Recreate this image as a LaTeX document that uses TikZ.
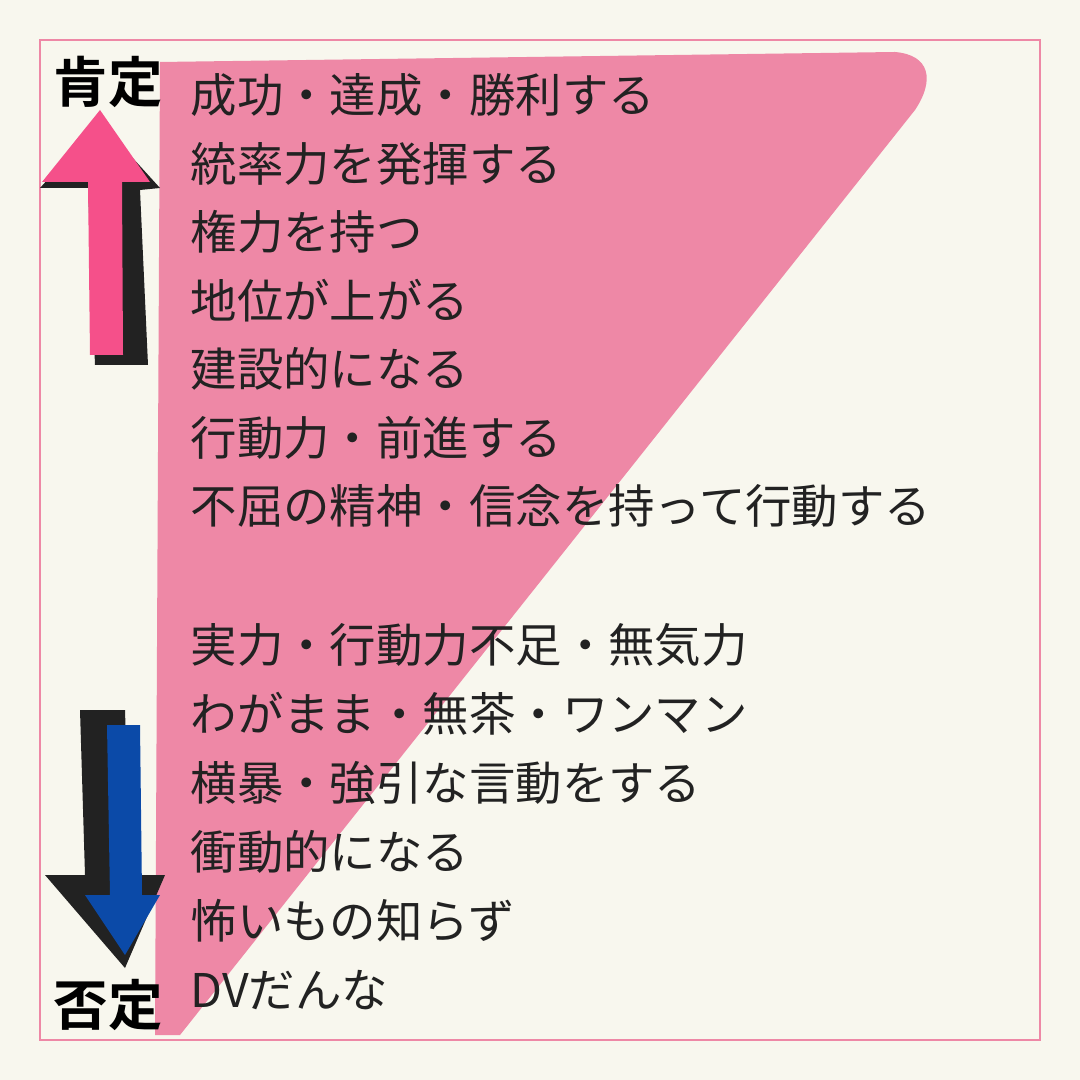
\documentclass[tikz,border=0pt]{standalone}
\usepackage{fontspec}
\newfontfamily\cjk{Noto Sans CJK JP}
\newfontfamily\cjkbold{Noto Sans CJK JP Bold}
\definecolor{cream}{HTML}{F8F7EE}
\definecolor{rosa}{HTML}{EE88A6}
\definecolor{hotpink}{HTML}{F5508A}
\definecolor{navy}{HTML}{0B4AA8}
\definecolor{ink}{HTML}{222222}
\begin{document}
\begin{tikzpicture}[x=0.01cm, y=-0.01cm,
    item/.style={anchor=west, inner sep=0pt, font=\cjk\fontsize{13.2}{16}\selectfont, text=ink},
    tag/.style={inner sep=0pt, font=\cjkbold\fontsize{15.5}{18}\selectfont, text=black}]
    % Background and frame
    \fill[cream] (0,0) rectangle (1080,1080);
    \useasboundingbox (0,0) rectangle (1080,1080);
    \draw[rosa, line width=0.6pt] (40,40) rectangle (1040,1040);

    % Pink wedge
    \fill[rosa] (160,62) -- (895,52) .. controls (930,55) and (935,80) .. (915,110)
        -- (180,1035) -- (155,1035) -- cycle;

    % Up arrow (positive)
    \fill[ink] (100,122) -- (40,188) -- (88,188) -- (95,365) -- (148,365) -- (140,190) -- (160,188) -- cycle;
    \fill[hotpink] (100,110) -- (42,182) -- (88,182) -- (90,355) -- (123,355) -- (122,182) -- (150,182) -- cycle;
    \node[tag] (pos) at (108,82) {肯定};

    % Down arrow (negative)
    \fill[ink] (80,710) -- (125,710) -- (130,875) -- (165,875) -- (125,968) -- (45,875) -- (85,875) -- cycle;
    \fill[navy] (107,725) -- (140,725) -- (142,895) -- (160,895) -- (125,955) -- (85,895) -- (110,895) -- cycle;
    \node[tag] (neg) at (108,1005) {否定};

    % Positive items
    \foreach \t [count=\i] in {成功・達成・勝利する, 統率力を発揮する, 権力を持つ, 地位が上がる,
        建設的になる, 行動力・前進する, 不屈の精神・信念を持って行動する}
        \node[item] (p\i) at (190, 95+68.5*\i-68.5) {\t};

    % Negative items
    \foreach \t [count=\i] in {実力・行動力不足・無気力, わがまま・無茶・ワンマン, 横暴・強引な言動をする,
        衝動的になる, 怖いもの知らず, DVだんな}
        \node[item] (n\i) at (190, 645+69*\i-69) {\t};
\end{tikzpicture}
\end{document}
